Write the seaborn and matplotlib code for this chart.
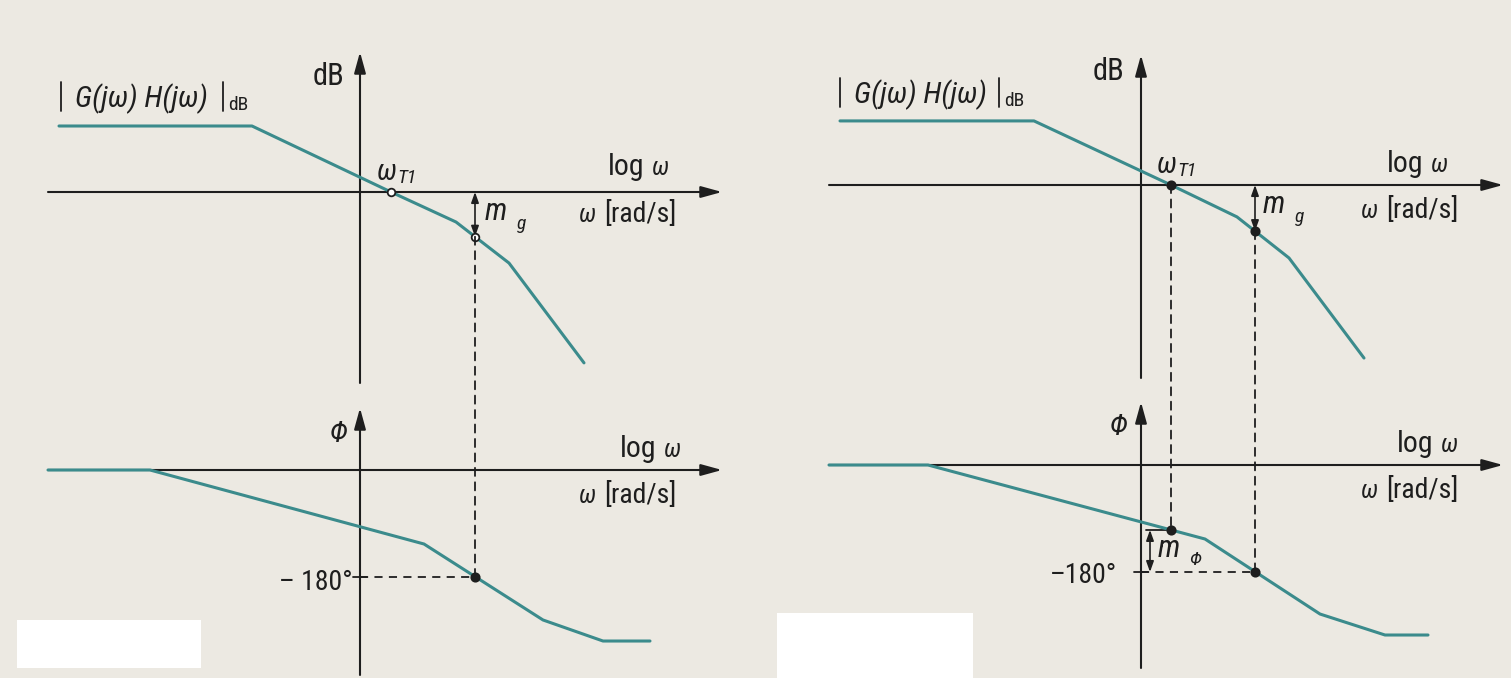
import numpy as np
import matplotlib
matplotlib.use("Agg")
import matplotlib.pyplot as plt
import seaborn as sns
from matplotlib.patches import ConnectionPatch, Rectangle

# ---- Asymptotic Bode data: log(omega) in decades from the origin, |GH| in dB, phase in degrees ----
# Left diagram (unstable loop: gain margin measured below the axis)
mag_logw_a = [-3.01, -1.08, 0.31, 0.96, 1.49, 2.24]
mag_db_a = [27.5, 27.5, 0.0, -12.5, -29.6, -71.2]
phase_logw_a = [-3.12, -2.10, 0.64, 1.83, 2.43, 2.90]
phase_deg_a = [0.0, 0.0, -124.5, -252.3, -287.7, -287.7]
w_t1_a = 0.31
w_180_a = 1.15

# Right diagram (gain and phase margins)
mag_logw_b = [-3.01, -1.07, 0.30, 0.96, 1.48, 2.23]
mag_db_b = [26.7, 26.7, 0.0, -13.3, -30.4, -72.1]
phase_logw_b = [-3.12, -2.13, 0.64, 1.79, 2.44, 2.87]
phase_deg_b = [0.0, 0.0, -124.5, -250.7, -286.0, -286.0]
w_t1_b = 0.30
w_180_b = 1.14

# ---- style ----
sns.set_style("white")
plt.rcParams["font.family"] = ["Roboto Condensed", "DejaVu Sans"]

W, H = 1511, 678
BG = "#ece9e2"
INK = "#1e1e1e"
CURVE = "#3b8b8c"
PX_DEC = 100.0          # pixels per decade
PX_DB = 2.4             # pixels per dB
PX_DEG = 107.0 / 180.0  # pixels per degree

fig = plt.figure(figsize=(W / 100, H / 100), dpi=100)
fig.patch.set_facecolor(BG)


def make_axes(x0, x1, y0, y1, ox, oy, sy):
    """Axes over a pixel box with its data origin at pixel (ox, oy)."""
    ax = fig.add_axes([x0 / W, 1 - y1 / H, (x1 - x0) / W, (y1 - y0) / H])
    ax.set_xlim((x0 - ox) / PX_DEC, (x1 - ox) / PX_DEC)
    ax.set_ylim(-(y1 - oy) / sy, (oy - y0) / sy)
    ax.set_axis_off()
    ax.patch.set_alpha(0)
    return ax


def txt(x, y, s, size=21, style="normal", ha="left"):
    fig.text(x / W, 1 - y / H, s, fontsize=size, style=style, ha=ha,
             va="baseline", color=INK)


def axis_arrow(ax, p0, p1):
    ax.annotate("", xy=p1, xytext=p0,
                arrowprops=dict(arrowstyle="-|>,head_length=0.8,head_width=0.22",
                                color=INK, lw=1.5, mutation_scale=16,
                                shrinkA=0, shrinkB=0))


def double_arrow(ax, p0, p1):
    ax.annotate("", xy=p1, xytext=p0,
                arrowprops=dict(arrowstyle="<|-|>,head_length=0.7,head_width=0.25",
                                color=INK, lw=1.2, mutation_scale=9,
                                shrinkA=0, shrinkB=0))


def dot(ax, x, y, hollow):
    ax.plot([x], [y], marker="o", ms=5.5 if hollow else 6, mec=INK, mew=1.3,
            mfc="white" if hollow else INK, zorder=6, clip_on=False)


def dashed(ax_a, pa, ax_b, pb):
    con = ConnectionPatch(xyA=pa, coordsA=ax_a.transData, xyB=pb,
                          coordsB=ax_b.transData, color=INK, lw=1.3,
                          linestyle=(0, (4.5, 3.5)), zorder=4)
    fig.add_artist(con)


def draw_diagram(x0, x1, ox, oy_mag, oy_ph, mlw, mdb, plw, pdeg, wt1, w180,
                 xaxis_px, mag_top, mag_bot, ph_top, ph_bot, hollow, margins):
    axm = make_axes(x0, x1, 0, 400, ox, oy_mag, PX_DB)
    axp = make_axes(x0, x1, 400, H, ox, oy_ph, PX_DEG)

    xa0 = (xaxis_px[0] - ox) / PX_DEC
    xa1 = (xaxis_px[1] - ox) / PX_DEC
    # magnitude axes
    axis_arrow(axm, (xa0, 0), (xa1, 0))
    axis_arrow(axm, (0, (oy_mag - mag_bot) / PX_DB), (0, (oy_mag - mag_top) / PX_DB))
    # phase axes
    axis_arrow(axp, (xa0, 0), (xa1, 0))
    axis_arrow(axp, (0, (oy_ph - ph_bot) / PX_DEG), (0, (oy_ph - ph_top) / PX_DEG))

    sns.lineplot(x=mlw, y=mdb, ax=axm, color=CURVE, lw=2.2, sort=False, zorder=5)
    sns.lineplot(x=plw, y=pdeg, ax=axp, color=CURVE, lw=2.2, sort=False, zorder=5)

    mg = float(np.interp(w180, mlw, mdb))
    # gain margin arrow
    double_arrow(axm, (w180, 0), (w180, mg))
    dot(axm, wt1, 0.0, hollow)
    dot(axm, w180, mg, hollow)

    # -180 deg reference
    axp.plot([-0.07, 0.07], [-180, -180], color=INK, lw=1.3)
    axp.plot([0.0, w180], [-180, -180], color=INK, lw=1.3,
             linestyle=(0, (4.5, 3.5)))
    dot(axp, w180, -180.0, False)
    dashed(axm, (w180, mg), axp, (w180, -180))

    if margins:
        pm = float(np.interp(wt1, plw, pdeg))
        dashed(axm, (wt1, 0), axp, (wt1, pm))
        dot(axp, wt1, pm, False)
        axp.plot([0.05, wt1], [pm, pm], color=INK, lw=1.3)
        double_arrow(axp, (0.09, pm), (0.09, -180))
    return axm, axp


draw_diagram(0, 755, 360, 192, 470, mag_logw_a, mag_db_a, phase_logw_a,
             phase_deg_a, w_t1_a, w_180_a, (48, 722), 52, 383, 408, 675,
             hollow=True, margins=False)
draw_diagram(755, W, 1141, 185, 465, mag_logw_b, mag_db_b, phase_logw_b,
             phase_deg_b, w_t1_b, w_180_b, (829, 1503), 55, 378, 402, 668,
             hollow=False, margins=True)

# ---- labels ----
def gh_label(xbar, xbar2, base):
    fig.add_artist(plt.Line2D([xbar / W, xbar / W], [1 - (base - 25) / H, 1 - (base + 4) / H],
                              color=INK, lw=1.3))
    fig.add_artist(plt.Line2D([xbar2 / W, xbar2 / W], [1 - (base - 25) / H, 1 - (base + 4) / H],
                              color=INK, lw=1.3))
    txt(xbar + 14, base, "G(jω) H(jω)", 21.5, "italic")
    txt(xbar2 + 5, base + 3, "dB", 14)


# left diagram
txt(313, 85, "dB", 22)
gh_label(61, 223, 107)
txt(377, 180, "ω", 21, "italic")
txt(397, 183, "T1", 14, "italic")
txt(608, 175, "log", 21.5)
txt(652, 175, "ω", 18, "italic")
txt(579, 222, "ω", 18, "italic")
txt(604, 222, "[rad/s]", 20)
txt(485, 220, "m", 22, "italic")
txt(517, 229, "g", 14, "italic")
txt(330, 442, "Φ", 21, "italic")
txt(620, 457, "log", 21.5)
txt(664, 457, "ω", 18, "italic")
txt(579, 503, "ω", 18, "italic")
txt(604, 503, "[rad/s]", 20)
txt(353, 590, "– 180°", 20, ha="right")

# right diagram
txt(1093, 80, "dB", 22)
gh_label(840, 999, 103)
txt(1157, 173, "ω", 21, "italic")
txt(1177, 176, "T1", 14, "italic")
txt(1387, 172, "log", 21.5)
txt(1431, 172, "ω", 18, "italic")
txt(1361, 218, "ω", 18, "italic")
txt(1386, 218, "[rad/s]", 20)
txt(1263, 213, "m", 22, "italic")
txt(1295, 222, "g", 14, "italic")
txt(1110, 435, "Φ", 21, "italic")
txt(1397, 452, "log", 21.5)
txt(1441, 452, "ω", 18, "italic")
txt(1361, 498, "ω", 18, "italic")
txt(1386, 498, "[rad/s]", 20)
txt(1117, 583, "–180°", 20, ha="right")
txt(1158, 557, "m", 22, "italic")
txt(1189, 565, "Φ", 14, "italic")

# blank panels over the lower-left corners
for (bx0, by0, bx1, by1) in [(17, 620, 201, 668), (777, 613, 973, 678)]:
    fig.add_artist(Rectangle((bx0 / W, 1 - by1 / H), (bx1 - bx0) / W, (by1 - by0) / H,
                             transform=fig.transFigure, facecolor="white",
                             edgecolor="none", zorder=10))

fig.savefig("out.png", dpi=100, facecolor=BG)
